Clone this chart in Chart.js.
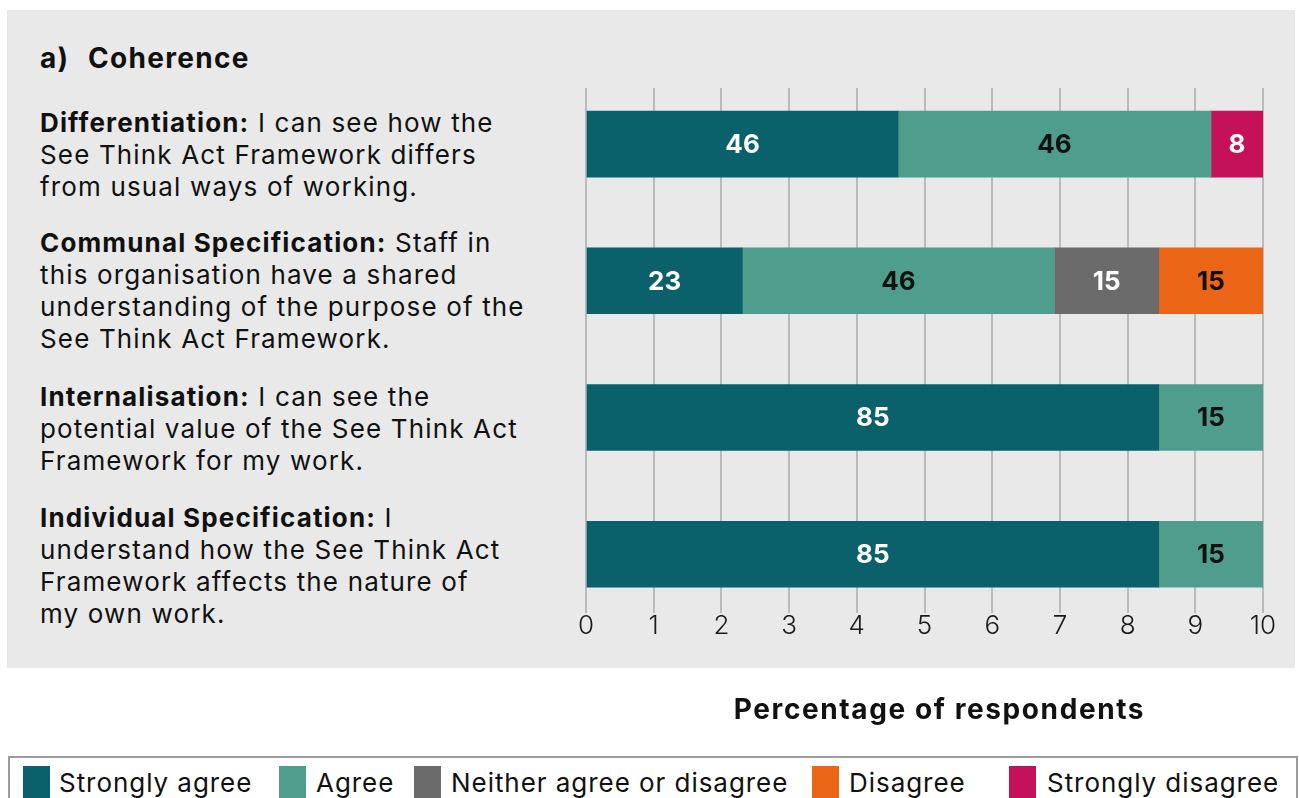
<!DOCTYPE html>
<html>
<head>
<meta charset="utf-8">
<script src="https://cdn.jsdelivr.net/npm/chart.js@4"></script>
<style>
  html, body { margin:0; padding:0; background:#ffffff; width:1299px; height:798px; overflow:hidden; }
  body { position:relative; font-family: Inter, "Open Sans", sans-serif; color:#111; }
  #panel { position:absolute; left:7px; top:10px; width:1288px; height:658px; background:#e9e9e9; }
  #chart { position:absolute; left:0; top:0; }
  .txt { position:absolute; left:40px; font-size:26px; letter-spacing:1.15px; line-height:32px; white-space:nowrap; color:#111; }
  .txt b { font-weight:700; }
  #title { position:absolute; left:40px; top:40px; font-size:28px; letter-spacing:1.3px; font-weight:700; line-height:36px; }
  #axisTitle { position:absolute; left:700px; top:690px; width:479px; text-align:center; font-size:28px; letter-spacing:1.6px; font-weight:700; line-height:38px; white-space:nowrap; }
  #legendBox { position:absolute; left:8px; top:756px; width:1286px; height:80px; border:2px solid #9c9c9c; background:#fff; }
  .sw { position:absolute; top:766px; width:27px; height:40px; }
  .lt { position:absolute; top:767px; font-size:26px; letter-spacing:0.95px; line-height:32px; white-space:nowrap; }
</style>
</head>
<body>
<div id="panel"></div>
<div id="title"><span>a)</span><span style="position:absolute;left:48px">Coherence</span></div>
<div id="labels"></div>
<canvas id="chart" width="1299" height="798"></canvas>
<div id="axisTitle"></div>
<div id="legendBox"></div>
<div id="legend"></div>
<script>
// ---- data ----
const categories = ["Differentiation", "Communal Specification", "Internalisation", "Individual Specification"];
const categoryText = [
  ["I can see how the", "See Think Act Framework differs", "from usual ways of working."],
  ["Staff in", "this organisation have a shared", "understanding of the purpose of the", "See Think Act Framework."],
  ["I can see the", "potential value of the See Think Act", "Framework for my work."],
  ["I", "understand how the See Think Act", "Framework affects the nature of", "my own work."]
];
const seriesNames = ["Strongly agree", "Agree", "Neither agree or disagree", "Disagree", "Strongly disagree"];
const stronglyAgree = [46.1, 23.1, 84.6, 84.6];
const agree = [46.2, 46.1, 15.4, 15.4];
const neither = [0, 15.4, 0, 0];
const disagree = [0, 15.4, 0, 0];
const stronglyDisagree = [7.7, 0, 0, 0];
const tickLabels = ["0","1","2","3","4","5","6","7","8","9","10"];
const axisTitleText = "Percentage of respondents";

// ---- styles ----
const colors = ["#0a606b", "#4f9e8d", "#6b6b6b", "#eb6517", "#c5115a"];
const labelColors = ["#ffffff", "#111111", "#ffffff", "#111111", "#ffffff"];
const seriesValues = [stronglyAgree, agree, neither, disagree, stronglyDisagree];
const FONT = 'Inter, "Open Sans", sans-serif';

// left labels (HTML)
const labelTops = [107, 227, 381, 502];
const labelsDiv = document.getElementById('labels');
categories.forEach((c, i) => {
  const d = document.createElement('div');
  d.className = 'txt';
  d.style.top = labelTops[i] + 'px';
  const lines = categoryText[i];
  d.innerHTML = '<b>' + c + ':</b> ' + lines[0] + '<br>' + lines.slice(1).join('<br>');
  labelsDiv.appendChild(d);
});
document.getElementById('axisTitle').textContent = axisTitleText;

// legend (HTML)
const swatchX = [23, 279, 414, 812, 1009];
const textX = [59, 316, 451, 849, 1047];
const leg = document.getElementById('legend');
seriesNames.forEach((n, i) => {
  const s = document.createElement('div');
  s.className = 'sw';
  s.style.left = swatchX[i] + 'px';
  s.style.background = colors[i];
  leg.appendChild(s);
  const t = document.createElement('div');
  t.className = 'lt';
  t.style.left = textX[i] + 'px';
  t.textContent = n;
  leg.appendChild(t);
});

const valueLabels = {
  id: 'valueLabels',
  afterDatasetsDraw(chart) {
    const ctx = chart.ctx;
    ctx.save();
    ctx.font = '700 26px ' + FONT;
    ctx.textAlign = 'center';
    ctx.textBaseline = 'middle';
    chart.data.datasets.forEach((ds, di) => {
      const meta = chart.getDatasetMeta(di);
      meta.data.forEach((el, i) => {
        const v = ds.data[i].x;
        if (!v) return;
        const p = el.getCenterPoint();
        ctx.fillStyle = labelColors[di];
        ctx.fillText(String(Math.round(v)), p.x, p.y + 1);
      });
    });
    ctx.restore();
  }
};

const datasets = seriesNames.map((n, si) => ({
  label: n,
  data: seriesValues[si].map((v, ci) => ({ x: v, y: ci })),
  backgroundColor: colors[si],
  borderWidth: 0,
  barThickness: 66
}));

new Chart(document.getElementById('chart'), {
  type: 'bar',
  data: { datasets },
  options: {
    indexAxis: 'y',
    responsive: false,
    animation: false,
    devicePixelRatio: 1,
    layout: { padding: { left: 586, right: 36, top: 88, bottom: 145 } },
    plugins: { legend: { display: false }, tooltip: { enabled: false } },
    scales: {
      x: {
        type: 'linear', stacked: true, min: 0, max: 100,
        afterFit(s) { s.height = 40; },
        border: { display: false },
        grid: { color: '#bbbbbb', lineWidth: 2, drawTicks: false },
        ticks: {
          stepSize: 10, padding: -2, color: '#1a1a1a',
          font: { family: FONT, size: 26, weight: '300' },
          callback: (v, i) => tickLabels[i]
        }
      },
      y: {
        type: 'linear', stacked: true, reverse: true, offset: false,
        grid: { offset: false },
        min: -0.41, max: 3.43, display: false
      }
    }
  },
  plugins: [valueLabels]
});
</script>
</body>
</html>
